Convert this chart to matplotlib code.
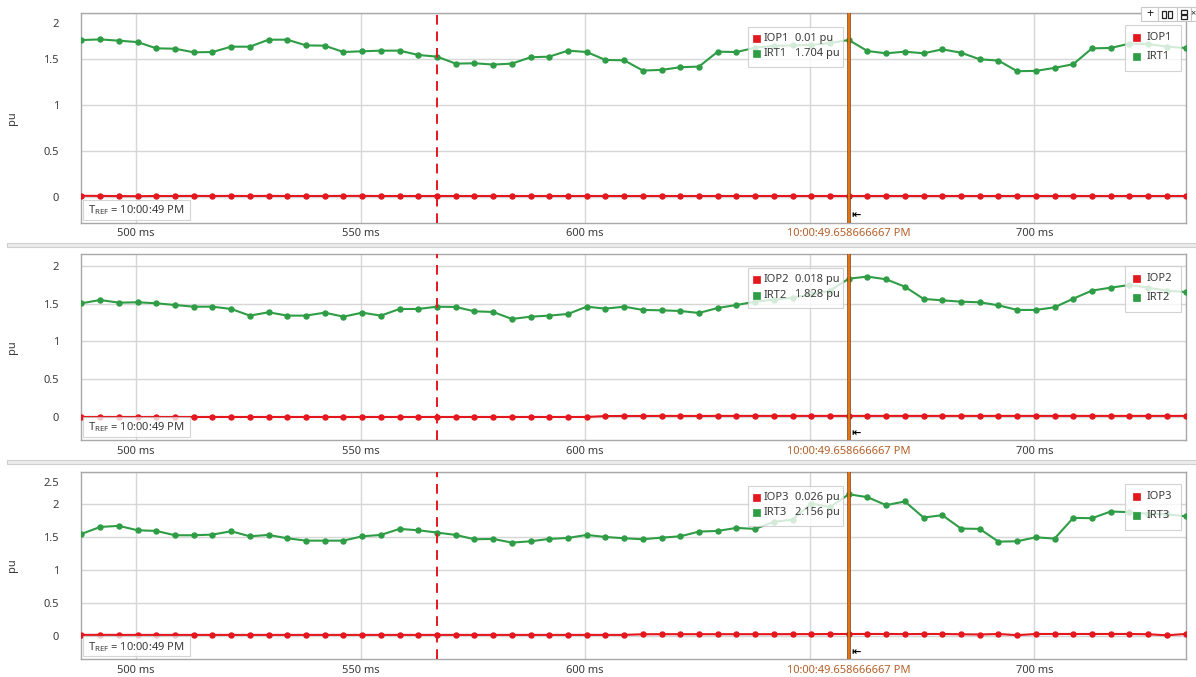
import numpy as np
import matplotlib
matplotlib.use("Agg")
import matplotlib.pyplot as plt
from matplotlib.patches import Rectangle
from matplotlib.transforms import Affine2D, ScaledTranslation

plt.rcParams["font.family"] = ["Noto Sans", "DejaVu Sans"]

W, H = 1196, 677

# sampling: 240 samples/s, first sample time in ms, cursor sample index
T_START_MS = 487.833
PERIOD_MS = 1000.0 / 240.0
CURSOR_IDX = 41
MARK_IDX = 19
CURSOR_TEXT = "10:00:49.658666667 PM"
TREF_TEXT = "T$_{\\mathregular{REF}}$ = 10:00:49 PM"

X_TICKS = [500, 550, 600, 650, 700]
X_LABELS = ["500 ms", "550 ms", "600 ms", "", "700 ms"]

IRT1 = [1.703, 1.710, 1.696, 1.681, 1.613, 1.609, 1.570, 1.573, 1.631, 1.631,
        1.707, 1.707, 1.645, 1.642, 1.573, 1.581, 1.588, 1.588, 1.541, 1.523,
        1.447, 1.451, 1.437, 1.447, 1.516, 1.523, 1.588, 1.573, 1.487, 1.483,
        1.372, 1.379, 1.408, 1.415, 1.577, 1.573, 1.620, 1.640, 1.645, 1.650,
        1.670, 1.704, 1.584, 1.559, 1.577, 1.559, 1.602, 1.566, 1.494, 1.480,
        1.365, 1.368, 1.401, 1.441, 1.613, 1.617, 1.664, 1.660, 1.631, 1.617]
IOP1 = [0.012, 0.011, 0.009, 0.008, 0.010, 0.010, 0.011, 0.010, 0.011, 0.010,
        0.011, 0.010, 0.010, 0.010, 0.011, 0.011, 0.010, 0.010, 0.010, 0.010,
        0.010, 0.010, 0.010, 0.010, 0.010, 0.010, 0.010, 0.010, 0.010, 0.010,
        0.010, 0.010, 0.010, 0.010, 0.010, 0.010, 0.010, 0.010, 0.010, 0.010,
        0.010, 0.010, 0.010, 0.010, 0.010, 0.010, 0.010, 0.010, 0.010, 0.010,
        0.010, 0.010, 0.010, 0.010, 0.010, 0.010, 0.010, 0.010, 0.010, 0.010]

IRT2 = [1.504, 1.547, 1.512, 1.517, 1.504, 1.481, 1.459, 1.459, 1.429, 1.341,
        1.385, 1.341, 1.341, 1.380, 1.327, 1.380, 1.341, 1.429, 1.429, 1.459,
        1.455, 1.398, 1.389, 1.297, 1.327, 1.341, 1.363, 1.459, 1.433, 1.459,
        1.416, 1.411, 1.402, 1.376, 1.442, 1.481, 1.525, 1.550, 1.580, 1.620,
        1.671, 1.828, 1.856, 1.820, 1.723, 1.561, 1.543, 1.525, 1.517, 1.477,
        1.416, 1.416, 1.451, 1.565, 1.671, 1.710, 1.745, 1.710, 1.670, 1.653]
IOP2 = [0.004, 0.004, 0.004, 0.004, 0.004, 0.004, 0.004, 0.004, 0.004, 0.004,
        0.004, 0.004, 0.004, 0.004, 0.004, 0.004, 0.004, 0.004, 0.004, 0.004,
        0.004, 0.004, 0.004, 0.004, 0.004, 0.004, 0.004, 0.004, 0.016, 0.017,
        0.017, 0.018, 0.018, 0.017, 0.018, 0.018, 0.018, 0.018, 0.018, 0.018,
        0.018, 0.018, 0.018, 0.018, 0.018, 0.018, 0.018, 0.018, 0.018, 0.018,
        0.018, 0.018, 0.018, 0.018, 0.018, 0.018, 0.018, 0.018, 0.018, 0.018]

IRT3 = [1.551, 1.658, 1.674, 1.607, 1.597, 1.531, 1.531, 1.541, 1.592, 1.515,
        1.536, 1.485, 1.449, 1.449, 1.449, 1.515, 1.536, 1.628, 1.607, 1.572,
        1.536, 1.470, 1.475, 1.419, 1.439, 1.475, 1.490, 1.536, 1.505, 1.485,
        1.470, 1.495, 1.515, 1.587, 1.597, 1.643, 1.628, 1.735, 1.770, 2.015,
        1.959, 2.156, 2.112, 1.990, 2.046, 1.801, 1.837, 1.633, 1.628, 1.434,
        1.439, 1.500, 1.480, 1.796, 1.791, 1.893, 1.883, 1.860, 1.850, 1.821]
IOP3 = [0.012, 0.013, 0.012, 0.012, 0.012, 0.012, 0.012, 0.012, 0.012, 0.012,
        0.012, 0.012, 0.012, 0.012, 0.012, 0.012, 0.012, 0.012, 0.012, 0.012,
        0.012, 0.012, 0.012, 0.012, 0.012, 0.012, 0.012, 0.012, 0.012, 0.012,
        0.022, 0.023, 0.023, 0.023, 0.023, 0.023, 0.023, 0.023, 0.024, 0.024,
        0.025, 0.026, 0.026, 0.026, 0.024, 0.026, 0.026, 0.022, 0.018, 0.026,
        0.008, 0.026, 0.026, 0.026, 0.026, 0.026, 0.026, 0.022, 0.006, 0.026]

PANELS = [
    dict(op="IOP1", rt="IRT1", iop=IOP1, irt=IRT1, ylim=(-0.28, 2.0),
         yticks=[0, 0.5, 1, 1.5, 2], top=12.7, bottom=222.7),
    dict(op="IOP2", rt="IRT2", iop=IOP2, irt=IRT2, ylim=(-0.30, 2.154),
         yticks=[0, 0.5, 1, 1.5, 2], top=254.0, bottom=440.0),
    dict(op="IOP3", rt="IRT3", iop=IOP3, irt=IRT3, ylim=(-0.36, 2.49),
         yticks=[0, 0.5, 1, 1.5, 2, 2.5], top=471.7, bottom=659.3),
]
AX_LEFT, AX_RIGHT = 81.0, 1186.0

RED = "#e3171d"
GREEN = "#2e9d45"
CURSOR = "#ee7a12"
CURSOR_EDGE = "#8a4310"
CURSOR_LABEL = "#b4602a"
GRID = "#d6d6d6"
FRAME = "#a8a8a8"
TEXT = "#3a3a3a"

times = T_START_MS + PERIOD_MS * np.arange(len(IRT1))
t_cursor = times[CURSOR_IDX]
t_mark = times[MARK_IDX]

fig = plt.figure(figsize=(W / 100, H / 100), dpi=100)
# pixel coordinates of the image, y measured downward
PX = Affine2D().scale(1.0 / W, -1.0 / H).translate(0, 1) + fig.transFigure


def px_box(x0, y0, x1, y1, fc="white", ec="#c8c8c8", alpha=1.0, z=5, lw=0.8):
    fig.patches.append(Rectangle((x0, y1), x1 - x0, y0 - y1, transform=PX,
                                 facecolor=fc, edgecolor=ec, lw=lw, alpha=alpha,
                                 zorder=z))


def px_text(x, y, s, z=7, **kw):
    kw.setdefault("fontsize", 8)
    kw.setdefault("color", TEXT)
    kw.setdefault("va", "center")
    fig.text(x, y, s, transform=PX, zorder=z, **kw)


def fmt(v):
    return f"{round(v, 3):g}"


for p in PANELS:
    top, bot = p["top"], p["bottom"]
    ax = fig.add_axes([AX_LEFT / W, 1 - bot / H, (AX_RIGHT - AX_LEFT) / W, (bot - top) / H])
    ax.plot(times, p["iop"], color=RED, lw=1.5, marker="o", ms=3.6, zorder=3)
    ax.plot(times, p["irt"], color=GREEN, lw=1.5, marker="o", ms=3.6, zorder=3)

    ax.axvline(t_mark, color=RED, lw=1.4, ls=(0, (5, 3.5)), zorder=4)
    ax.axvline(t_cursor, color=CURSOR_EDGE, lw=2.6, zorder=4)
    ax.axvline(t_cursor, color=CURSOR, lw=1.3, zorder=4)

    ax.set_xlim(times[0] - 0.1, times[-1] + 0.1)
    ax.set_ylim(*p["ylim"])
    ax.set_xticks(X_TICKS)
    ax.set_xticklabels(X_LABELS)
    ax.set_yticks(p["yticks"])
    ax.set_yticklabels([f"{v:g}" for v in p["yticks"]])
    ax.tick_params(length=0, labelsize=8, colors=TEXT)
    ax.tick_params(axis="y", pad=16)
    ax.tick_params(axis="x", pad=4)
    ax.grid(True, color=GRID, lw=1.0)
    ax.set_axisbelow(True)
    for s in ax.spines.values():
        s.set_color(FRAME)
        s.set_linewidth(1.0)
    ax.set_ylabel("pu", fontsize=8, color=TEXT)
    ax.yaxis.set_label_coords((18 - AX_LEFT) / (AX_RIGHT - AX_LEFT), 0.5)

    # keep the top tick label inside the plot frame
    top_lbl = ax.get_yticklabels()[-1]
    if p["yticks"][-1] >= p["ylim"][1] - 0.02:
        top_lbl.set_transform(top_lbl.get_transform()
                              + ScaledTranslation(0, -10 / 100, fig.dpi_scale_trans))

    # cursor time label under the axis, in line with the tick labels
    ax.annotate(CURSOR_TEXT, xy=(t_cursor, 0), xycoords=ax.get_xaxis_transform(),
                xytext=(0, -4), textcoords="offset points",
                ha="center", va="top", fontsize=8, color=CURSOR_LABEL)
    ax.annotate("\u21e4", xy=(t_cursor, 0), xycoords=ax.get_xaxis_transform(),
                xytext=(2, 5), textcoords="offset points",
                ha="left", va="center", fontsize=8, fontweight="bold",
                color="black", zorder=6)

    # reference time box
    px_box(83, bot - 23, 190, bot - 3, alpha=0.75)
    px_text(88, bot - 12.5, TREF_TEXT)

    # cursor readout
    ry = top + 14
    px_box(748, ry, 843, ry + 40, alpha=0.8)
    i = CURSOR_IDX
    for k, (name, vals, col) in enumerate([(p["op"], p["iop"], RED), (p["rt"], p["irt"], GREEN)]):
        yy = ry + 11.5 + k * 15.5
        px_box(753, yy - 3.5, 760, yy + 3.5, fc=col, ec=col, z=6, lw=0.5)
        px_text(764, yy, name)
        px_text(795, yy, f"{fmt(vals[i])} pu")

    # series legend
    ly = top + 12
    px_box(1125, ly, 1181, ly + 46, alpha=0.8)
    for k, (name, col) in enumerate([(p["op"], RED), (p["rt"], GREEN)]):
        yy = ly + 12.5 + k * 19
        px_box(1133, yy - 3.5, 1140, yy + 3.5, fc=col, ec=col, z=6, lw=0.5)
        px_text(1147, yy, name)

# separators between panels
for y0 in (243, 460):
    px_box(7, y0, 1200, y0 + 4, fc="#ececec", ec="#cfcfcf", z=2, lw=0.8)

# panel toolbar
px_box(1141, 7, 1158, 21, z=8)
px_text(1149.5, 14, "+", z=9, ha="center", fontsize=9, fontweight="bold", color="#222222")
px_box(1158, 7, 1177, 21, z=8)
for x in (1161.5, 1167.5):
    px_box(x, 10.5, x + 4.5, 17.5, fc="none", ec="#222222", z=9, lw=0.9)
px_box(1177, 7, 1191, 21, z=8)
for y in (9.5, 14.5):
    px_box(1181, y, 1187, y + 4, fc="none", ec="#222222", z=9, lw=0.9)
px_box(1191, 7, 1200, 21, z=8)
px_text(1190.5, 14, "\u00d7", z=9, fontsize=6.5, fontweight="bold", color="#222222")

fig.savefig("out.png", dpi=100)
